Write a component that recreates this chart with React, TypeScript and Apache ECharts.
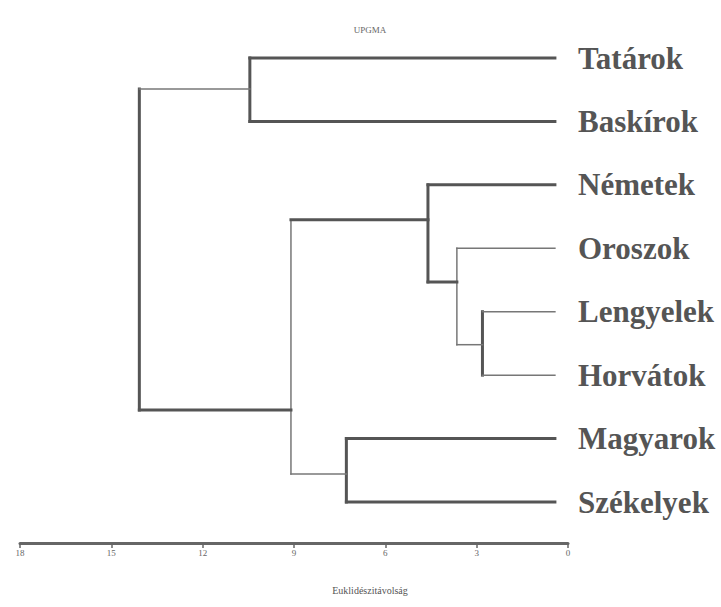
import React, { useEffect, useRef } from "react";
import * as echarts from "echarts";

// ---- data ----
const leafNames = ["Tatárok", "Baskírok", "Németek", "Oroszok", "Lengyelek", "Horvátok", "Magyarok", "Székelyek"];
const leafHeight = 0.43;
// merges (cluster ids: 0-7 leaves, 8+ merges in order)
const mergeFirst = [4, 3, 2, 6, 10, 0, 13];
const mergeSecond = [5, 8, 9, 7, 11, 1, 12];
const mergeHeight = [2.81, 3.65, 4.6, 7.28, 9.1, 10.45, 14.08];
const mergePosition = [4.52, 3.53, 2.55, 6.56, 5.55, 0.49, 3.0];
const axisMin = 0;
const axisMax = 18;
const axisStep = 3;
const titleText = "UPGMA";
const axisTitle = "Euklidészitávolság";

// ---- styles ----
const thickHorizontal = new Set([0, 1, 2, 6, 7, 9, 10, 12]);
const thickVertical = new Set([0, 2, 3, 5, 6]);

function heightOf(id: number) {
  return id < leafNames.length ? leafHeight : mergeHeight[id - leafNames.length];
}
function posOf(id: number) {
  return id < leafNames.length ? id : mergePosition[id - leafNames.length];
}

function buildSegments() {
  const segs: number[][] = [];
  mergeFirst.forEach((a, k) => {
    const b = mergeSecond[k];
    const h = mergeHeight[k];
    segs.push([h, posOf(a), h, posOf(b), thickVertical.has(k) ? 1 : 0]);
    [a, b].forEach((c) => {
      segs.push([heightOf(c), posOf(c), h, posOf(c), thickHorizontal.has(c) ? 1 : 0]);
    });
  });
  return segs;
}

export default function App() {
  const ref = useRef<HTMLDivElement>(null);
  useEffect(() => {
    if (!ref.current) return;
    const chart = echarts.init(ref.current, undefined, { renderer: "svg" });
    chart.setOption({
      animation: false,
      backgroundColor: "#ffffff",
      grid: { left: 20, right: 153, top: 58, height: 444, containLabel: false, outerBoundsMode: "none" },
      xAxis: {
        type: "value",
        min: axisMin,
        max: axisMax,
        interval: axisStep,
        inverse: true,
        position: "bottom",
        offset: 41,
        axisLine: { show: true, onZero: false, lineStyle: { color: "#666", width: 3 } },
        axisTick: { show: true, length: 5, lineStyle: { color: "#666", width: 1.5 } },
        axisLabel: { fontSize: 9, color: "#666", fontFamily: "Liberation Serif", margin: 5 },
        splitLine: { show: false },
      },
      yAxis: [
        { type: "value", min: 0, max: leafNames.length - 1, inverse: true, show: false },
        {
          type: "category",
          data: leafNames,
          inverse: true,
          boundaryGap: false,
          position: "right",
          axisLine: { show: false },
          axisTick: { show: false },
          splitLine: { show: false },
          axisLabel: {
            margin: 10,
            fontSize: 31,
            fontWeight: "bold",
            color: "#555",
            fontFamily: "Liberation Serif",
            align: "left",
          },
        },
      ],
      series: [
        {
          type: "custom",
          xAxisIndex: 0,
          yAxisIndex: 0,
          encode: { x: [0, 2], y: [1, 3] },
          data: buildSegments(),
          renderItem: (params: any, api: any) => {
            const p1 = api.coord([api.value(0), api.value(1)]);
            const p2 = api.coord([api.value(2), api.value(3)]);
            const thick = api.value(4) === 1;
            return {
              type: "line",
              shape: { x1: p1[0], y1: p1[1], x2: p2[0], y2: p2[1] },
              style: {
                stroke: thick ? "#555" : "#777",
                lineWidth: thick ? 3 : 1.5,
                lineCap: "square",
              },
            };
          },
        },
      ],
      graphic: [
        {
          type: "text",
          x: 370,
          y: 30,
          style: {
            text: titleText,
            fontSize: 9,
            fill: "#666",
            fontFamily: "Liberation Serif",
            align: "center",
            verticalAlign: "middle",
          },
        },
        {
          type: "text",
          x: 370,
          y: 590,
          style: {
            text: axisTitle,
            fontSize: 10,
            fill: "#555",
            fontFamily: "Liberation Serif",
            align: "center",
            verticalAlign: "middle",
          },
        },
      ],
    });
    return () => chart.dispose();
  }, []);
  return (
    <div
      ref={ref}
      style={{ position: "fixed", left: 0, top: 0, width: 721, height: 607, background: "#fff" }}
    />
  );
}
